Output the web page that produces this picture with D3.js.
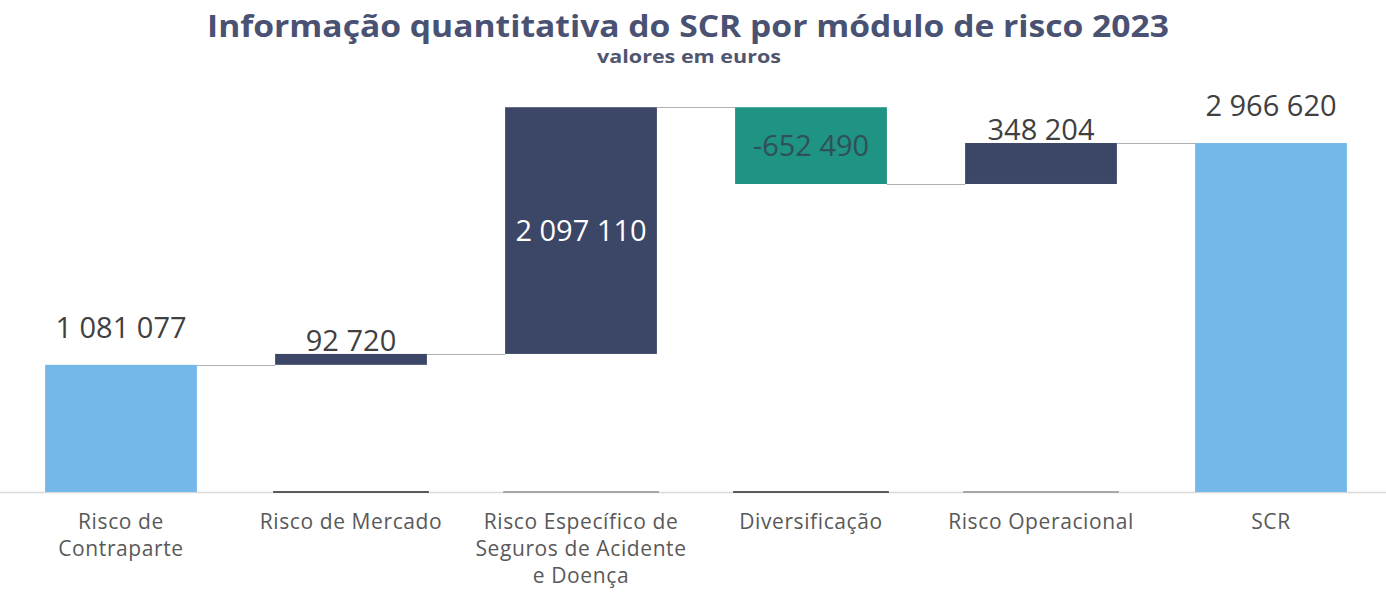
<!DOCTYPE html>
<html>
<head>
<meta charset="utf-8">
<script src="https://cdn.jsdelivr.net/npm/d3@7"></script>
<style>
  body { margin: 0; background: #fff; }
  text { font-family: "Open Sans", "Noto Sans", sans-serif; }
</style>
</head>
<body>
<script>
var w = 1386;
var h = 597;

var categories = [
    ["Risco de", "Contraparte"],
    ["Risco de Mercado"],
    ["Risco Específico de", "Seguros de Acidente", "e Doença"],
    ["Diversificação"],
    ["Risco Operacional"],
    ["SCR"]
];
var values = [1081077, 92720, 2097110, -652490, 348204, 2966620];
var isTotal = [true, false, false, false, false, true];
var yDomain = [0, 3300000];

// running totals for the waterfall
var bars = [];
var run = 0;
values.forEach(function (v, i) {
    var start, end;
    if (isTotal[i]) {
        start = 0; end = v; run = v;
    } else {
        start = run; end = run + v; run = end;
    }
    bars.push({ i: i, v: v, start: start, end: end, total: isTotal[i] });
});

var locale = d3.formatLocale({ decimal: ",", thousands: " ", grouping: [3], currency: ["", " €"], minus: "-" });
var fmt = locale.format(",d");

var xScale = d3.scaleBand()
    .domain(d3.range(categories.length))
    .range([6, 1386])
    .paddingInner(0.34)
    .paddingOuter(0.17);

var yScale = d3.scaleLinear()
    .domain(yDomain)
    .range([492, 103.8]);

var svg = d3.select("body")
    .append("svg")
    .attr("width", w)
    .attr("height", h);

// title
svg.append("text")
    .attr("x", 688)
    .attr("y", 37)
    .attr("text-anchor", "middle")
    .attr("textLength", 962)
    .attr("lengthAdjust", "spacingAndGlyphs")
    .style("font-size", "31px")
    .style("font-weight", "bold")
    .style("fill", "#4a5273")
    .text("Informação quantitativa do SCR por módulo de risco 2023");

svg.append("text")
    .attr("x", 689)
    .attr("y", 63)
    .attr("text-anchor", "middle")
    .attr("textLength", 184)
    .attr("lengthAdjust", "spacingAndGlyphs")
    .style("font-size", "17px")
    .style("font-weight", "bold")
    .style("fill", "#50566f")
    .text("valores em euros");

// baseline
svg.append("line")
    .attr("x1", 0)
    .attr("x2", w)
    .attr("y1", yScale(0) + 0.5)
    .attr("y2", yScale(0) + 0.5)
    .style("stroke", "#d9d9d9")
    .style("stroke-width", 1.5);

// faint base marks under the floating bars
svg.selectAll("line.base")
    .data(bars.filter(function (d) { return !d.total; }))
    .enter()
    .append("line")
    .attr("class", "base")
    .attr("x1", function (d) { return xScale(d.i) - 2; })
    .attr("x2", function (d) { return xScale(d.i) + xScale.bandwidth() + 2; })
    .attr("y1", yScale(0))
    .attr("y2", yScale(0))
    .style("stroke", function (d) { return d.i % 2 === 1 ? "#5a5a5a" : "#a8a8a8"; })
    .style("stroke-width", 2);

// connectors
svg.selectAll("line.conn")
    .data(bars.slice(0, bars.length - 1))
    .enter()
    .append("line")
    .attr("class", "conn")
    .attr("x1", function (d) { return xScale(d.i) + xScale.bandwidth(); })
    .attr("x2", function (d) { return xScale(d.i + 1); })
    .attr("y1", function (d) { return Math.round(yScale(d.end)) + 0.5; })
    .attr("y2", function (d) { return Math.round(yScale(d.end)) + 0.5; })
    .style("stroke", "#b0b0b0")
    .style("stroke-width", 1);

// bars
svg.selectAll("rect.bar")
    .data(bars)
    .enter()
    .append("rect")
    .attr("class", "bar")
    .attr("x", function (d) { return xScale(d.i); })
    .attr("width", xScale.bandwidth())
    .attr("y", function (d) { return yScale(Math.max(d.start, d.end)); })
    .attr("height", function (d) { return Math.abs(yScale(d.start) - yScale(d.end)); })
    .attr("fill", function (d) {
        if (d.total) {
            return "#74b8ea";
        } else if (d.v < 0) {
            return "#1f9384";
        } else {
            return "#3c4666";
        }
    });

// value labels
svg.selectAll("text.val")
    .data(bars)
    .enter()
    .append("text")
    .attr("class", "val")
    .attr("x", function (d) { return xScale(d.i) + xScale.bandwidth() / 2; })
    .attr("y", function (d) {
        var top = yScale(Math.max(d.start, d.end));
        var bottom = yScale(Math.min(d.start, d.end));
        if (d.total) return top - 27;
        if (bottom - top > 60) return (top + bottom) / 2 + 10;
        return top - 3;
    })
    .attr("text-anchor", "middle")
    .style("font-size", "29px")
    .style("fill", function (d) {
        var size = Math.abs(yScale(d.start) - yScale(d.end));
        if (size > 60 && d.v > 0 && !d.total) return "#ffffff";
        if (size > 60 && d.v < 0) return "#2f5058";
        return "#404040";
    })
    .text(function (d) { return fmt(d.v); });

// category labels
var cat = svg.selectAll("text.cat")
    .data(categories)
    .enter()
    .append("text")
    .attr("class", "cat")
    .attr("x", function (d, i) { return xScale(i) + xScale.bandwidth() / 2; })
    .attr("y", 529)
    .attr("text-anchor", "middle")
    .style("font-size", "21px")
    .style("letter-spacing", "0.6px")
    .style("fill", "#595959");

cat.selectAll("tspan")
    .data(function (d) { return d; })
    .enter()
    .append("tspan")
    .attr("x", function () { return this.parentNode.getAttribute("x"); })
    .attr("dy", function (d, j) { return j === 0 ? 0 : 27; })
    .text(function (d) { return d; });
</script>
</body>
</html>
